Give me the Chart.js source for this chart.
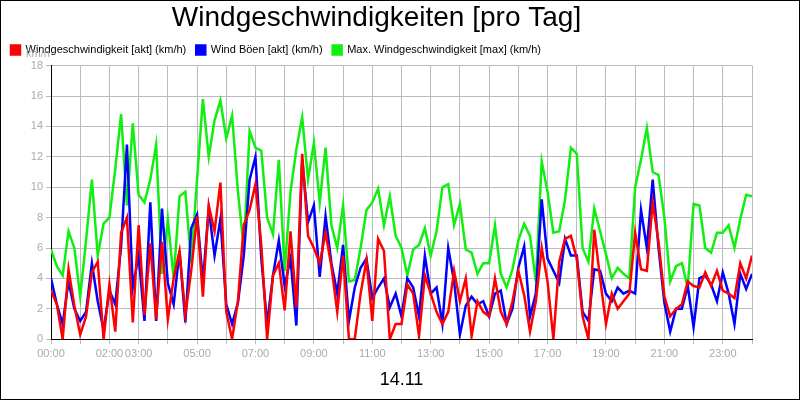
<!DOCTYPE html>
<html>
<head>
<meta charset="utf-8">
<script src="https://cdn.jsdelivr.net/npm/chart.js@4"></script>
<style>
  body { margin: 0; background: #fff; }
  #box { width: 798px; height: 398px; border: 1px solid #000; }
</style>
</head>
<body>
<div id="box"><canvas id="myChart" width="798" height="398"></canvas></div>
<script>
// hours 0..24 in 0.2 steps
const hours = [];
for (let i = 0; i <= 120; i++) hours.push(+(i * 0.2).toFixed(1));

const tickHours = [0, 2, 3, 5, 7, 9, 11, 13, 15, 17, 19, 21, 23];

const windAkt = [
  3.2, 2.3, 0, 4.6, 2.2, 0.3, 1.5, 4.4, 5.1, 0, 3.6, 0.5, 7.0, 8.0, 1.1, 7.5, 1.6, 6.3, 1.3, 6.4, 1.3, 4.0, 5.8, 1.6, 4.5, 8.1, 2.8, 8.8, 7.1, 10.3,
  1.8, 0, 2.5, 7.5, 8.5, 10.2, 6.2, 0, 4.2, 5.0, 1.9, 7.1, 2.1, 12.2, 6.8, 6.0, 5.0, 7.0, 4.8, 1.8, 5.5, 0, 0, 3.0, 5.2, 1.2, 6.6, 5.8, 0,
  1.0, 1.0, 3.6, 3.0, 0.2, 4.2, 3.0, 1.8, 1.0, 1.8, 4.5, 2.5, 4.0, 0.2, 2.5, 1.8, 1.5, 4.0, 1.8, 1.0, 2.5, 4.5, 2.9, 0.5, 2.5, 6.0, 3.8, 0, 5.1, 6.6,
  6.8, 5.3, 1.5, 0, 7.2, 4.0, 1.0, 3.0, 2.0, 2.5, 3.0, 7.0, 4.6, 4.5, 9.0, 6.4, 2.8, 1.5, 2.0, 2.3, 3.8, 3.5, 3.4, 4.4, 3.5, 4.5, 3.2, 3.0, 2.7, 5.0, 4.0, 5.5
];

const windBoeen = [
  4.0, 2.3, 1.0, 3.8, 2.0, 1.2, 1.8, 5.0, 2.5, 0.6, 3.2, 2.3, 6.1, 12.8, 3.4, 5.5, 1.2, 9.0, 1.2, 8.6, 3.7, 2.3, 5.8, 1.1, 7.3, 8.2, 3.8, 8.6, 5.5, 7.9,
  2.3, 1.0, 2.4, 5.5, 10.5, 12.0, 5.3, 1.0, 4.2, 6.5, 3.5, 5.3, 0.9, 11.8, 7.7, 8.8, 4.1, 8.1, 5.0, 3.0, 6.2, 1.2, 3.4, 4.7, 5.3, 2.7, 3.4, 4.0, 2.1,
  3.0, 1.5, 4.0, 3.4, 1.5, 5.5, 3.0, 3.4, 1.0, 6.0, 3.8, 0.3, 2.2, 2.8, 2.3, 2.5, 1.5, 3.0, 3.2, 1.0, 2.0, 4.7, 6.1, 1.5, 3.0, 9.2, 5.3, 4.5, 3.7, 6.6,
  5.5, 5.5, 1.8, 1.2, 4.6, 4.5, 3.0, 2.5, 3.4, 3.0, 3.2, 3.0, 8.5, 6.0, 10.5, 6.0, 2.4, 0.5, 2.0, 2.0, 3.5, 0.8, 4.0, 4.2, 3.6, 2.5, 4.4, 3.0, 1.0, 4.3, 3.3, 4.3
];

const windMax = [
  5.9, 4.8, 4.2, 7.1, 6.0, 2.8, 6.5, 10.5, 5.5, 7.6, 8.0, 11.2, 14.8, 8.8, 14.2, 9.5, 9.0, 10.5, 12.8, 4.3, 7.9, 4.0, 9.4, 9.7, 5.0, 10.5, 15.8, 12.0, 14.4, 15.7,
  13.2, 14.7, 9.7, 6.0, 13.7, 12.6, 12.4, 8.0, 6.9, 11.8, 4.5, 9.7, 12.5, 14.6, 10.5, 12.9, 9.0, 12.6, 7.5, 6.0, 8.8, 3.8, 3.9, 6.0, 8.5, 9.0, 9.9, 7.5, 9.4,
  6.8, 6.0, 4.2, 5.9, 6.2, 7.3, 5.5, 7.1, 10.0, 10.2, 7.5, 8.9, 5.9, 5.7, 4.3, 5.0, 5.0, 7.5, 4.3, 3.4, 4.6, 6.5, 7.6, 6.8, 3.8, 11.7, 9.7, 7.0, 7.1, 9.2,
  12.6, 12.2, 6.0, 5.1, 8.6, 7.1, 5.6, 4.0, 4.7, 4.3, 4.0, 10.0, 11.8, 13.9, 11.0, 10.8, 8.0, 3.8, 4.8, 5.0, 3.4, 8.9, 8.8, 6.0, 5.7, 7.0, 7.0, 7.5, 6.0, 7.9, 9.5, 9.4
];

const toPoints = vals => vals.map((v, i) => ({ x: hours[i], y: v }));
const FONT = '"Liberation Sans", Arial, sans-serif';

// little "km/h" label above the y axis
const unitLabel = {
  id: 'unitLabel',
  afterDraw(chart) {
    const ctx = chart.ctx;
    ctx.save();
    ctx.font = '11px ' + FONT;
    ctx.fillStyle = '#aaa';
    ctx.textAlign = 'center';
    ctx.fillText('km/h', 37, 53);
    ctx.restore();
  }
};

// shift the legend row so it starts at the plot's left edge
const legendShift = {
  id: 'legendShift',
  afterUpdate(chart) {
    const lg = chart.legend;
    if (lg && lg.legendHitBoxes) lg.legendHitBoxes.forEach(b => { b.left += 48; });
  }
};

const line = (label, data, color, order) => ({
  label, data: toPoints(data), borderColor: color, backgroundColor: color,
  borderWidth: 2.5, pointRadius: 0, tension: 0, order
});

new Chart(document.getElementById('myChart'), {
  type: 'line',
  data: {
    datasets: [
      line('Windgeschwindigkeit [akt] (km/h)', windAkt, '#ff0000', 1),
      line('Wind Böen [akt] (km/h)', windBoeen, '#0000ff', 2),
      line('Max. Windgeschwindigkeit [max] (km/h)', windMax, '#11ee11', 3)
    ]
  },
  options: {
    responsive: false,
    animation: false,
    layout: { padding: { left: 0, right: 47, top: 0, bottom: 4 } },
    plugins: {
      title: {
        display: true,
        text: 'Windgeschwindigkeiten [pro Tag]',
        color: '#000',
        font: { family: FONT, size: 28, weight: 'normal' },
        padding: { top: 0, bottom: 0 }
      },
      legend: {
        align: 'start',
        labels: {
          boxWidth: 9, boxHeight: 9, color: '#000', padding: 10,
          font: { family: FONT, size: 11 }
        }
      },
      tooltip: { enabled: false }
    },
    scales: {
      x: {
        type: 'linear', min: 0, max: 24,
        grid: { color: '#bbb', tickLength: 5 },
        border: { color: '#000', width: 1 },
        ticks: {
          stepSize: 1, autoSkip: false, maxRotation: 0, color: '#aaa',
          font: { family: FONT, size: 11 },
          callback: v => tickHours.includes(v) ? String(v).padStart(2, '0') + ':00' : ''
        },
        title: {
          display: true, text: '14.11', color: '#000',
          font: { family: FONT, size: 18 },
          padding: { top: 6 }
        }
      },
      y: {
        min: 0, max: 18,
        grid: { color: '#bbb', tickLength: 5 },
        border: { color: '#000', width: 1 },
        afterFit: s => { s.width = 50; },
        ticks: {
          stepSize: 2, color: '#aaa',
          font: { family: FONT, size: 11 }
        }
      }
    }
  },
  plugins: [unitLabel, legendShift]
});
</script>
</body>
</html>
